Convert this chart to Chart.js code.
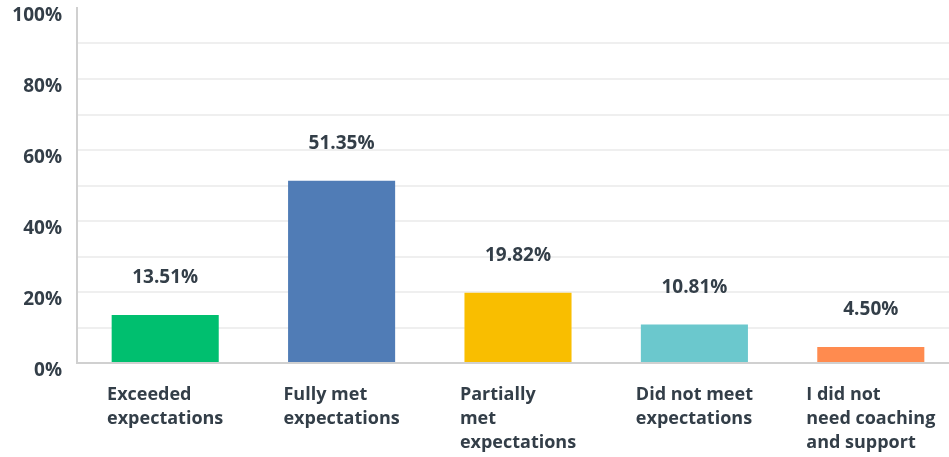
<!DOCTYPE html>
<html>
<head>
<meta charset="utf-8">
<script src="https://cdn.jsdelivr.net/npm/chart.js@4"></script>
<style>
  html, body { margin: 0; padding: 0; background: #fff; overflow: hidden; }
  #wrap { position: relative; width: 959px; height: 457px; }
</style>
</head>
<body>
<div id="wrap"><canvas id="chart"></canvas></div>
<script>
// chart data
const categories = [
    ["Exceeded", "expectations"],
    ["Fully met", "expectations"],
    ["Partially", "met", "expectations"],
    ["Did not meet", "expectations"],
    ["I did not", "need coaching", "and support"]
];
const values = [13.51, 51.35, 19.82, 10.81, 4.50];
const barColors = ["#00BF6F", "#507CB6", "#F9BE00", "#6BC8CD", "#FF8B4F"];
const yTicks = [0, 20, 40, 60, 80, 100];

const textColor = "#333E48";
const fontFamily = "'Open Sans', sans-serif";

// value labels above bars
const valueLabels = {
    id: "valueLabels",
    afterDatasetsDraw(chart) {
        const ctx = chart.ctx;
        const meta = chart.getDatasetMeta(0);
        ctx.save();
        ctx.font = "700 19px " + fontFamily;
        ctx.fillStyle = textColor;
        ctx.textAlign = "center";
        ctx.textBaseline = "middle";
        meta.data.forEach((bar, i) => {
            ctx.fillText(values[i].toFixed(2) + "%", bar.x, bar.y - 37);
        });
        ctx.restore();
    }
};

// x labels: block centred under the bar, lines left aligned
const xLabels = {
    id: "xLabels",
    afterDraw(chart) {
        const ctx = chart.ctx;
        const xScale = chart.scales.x;
        ctx.save();
        ctx.font = "700 18px " + fontFamily;
        ctx.fillStyle = textColor;
        ctx.textAlign = "left";
        ctx.textBaseline = "middle";
        categories.forEach((lines, i) => {
            const cx = xScale.getPixelForValue(i);
            const w = Math.max(...lines.map(l => ctx.measureText(l).width));
            lines.forEach((line, j) => {
                ctx.fillText(line, cx - w / 2, chart.chartArea.bottom + 32 + j * 24);
            });
        });
        ctx.restore();
    }
};

new Chart(document.getElementById("chart"), {
    type: "bar",
    data: {
        labels: categories,
        datasets: [{
            data: values,
            backgroundColor: barColors,
            barPercentage: 0.607,
            categoryPercentage: 1
        }]
    },
    options: {
        responsive: true,
        maintainAspectRatio: false,
        animation: false,
        layout: { padding: { top: 8, right: 0, left: 0, bottom: 0 } },
        plugins: {
            legend: { display: false },
            tooltip: { enabled: false }
        },
        scales: {
            x: {
                grid: { display: false },
                border: { color: "#D0D0D0", width: 2 },
                ticks: { display: false },
                afterFit(scale) { scale.height = 94; }
            },
            y: {
                min: 0,
                max: 100,
                afterFit(scale) {
                    scale.width = 77;
                    scale.paddingTop = 0;
                    scale.paddingBottom = 0;
                },
                afterBuildTicks(scale) {
                    const t = [];
                    for (let v = 0; v <= 100; v += 10) t.push({ value: v });
                    scale.ticks = t;
                },
                grid: {
                    drawTicks: false,
                    lineWidth: 2,
                    color: ctx => (ctx.tick && (ctx.tick.value === 100 || ctx.tick.value === 0)) ? "rgba(0,0,0,0)" : "#EFEFEF"
                },
                border: { color: "#D0D0D0", width: 2 },
                ticks: {
                    padding: 15,
                    labelOffset: 8,
                    color: textColor,
                    font: { family: fontFamily, size: 19, weight: "700" },
                    callback: v => yTicks.includes(v) ? v + "%" : ""
                }
            }
        }
    },
    plugins: [valueLabels, xLabels]
});
</script>
</body>
</html>
